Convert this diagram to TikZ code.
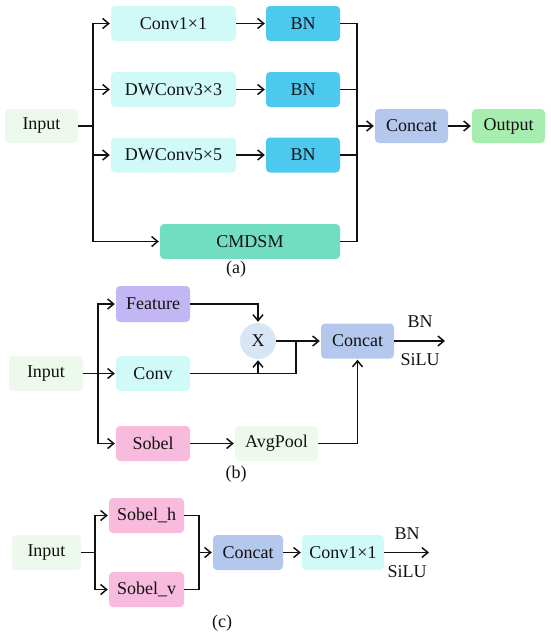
\documentclass[tikz,border=0pt]{standalone}
\usepackage{fontspec}
\setmainfont{Liberation Serif}
\usetikzlibrary{arrows.meta}
\definecolor{inpc}{HTML}{EEF9EE}
\definecolor{cyanc}{HTML}{CFFAF8}
\definecolor{bnc}{HTML}{4DC9EF}
\definecolor{tealc}{HTML}{72DEC1}
\definecolor{concc}{HTML}{B4C7EC}
\definecolor{outc}{HTML}{A8EDB0}
\definecolor{purpc}{HTML}{C3B6F4}
\definecolor{pinkc}{HTML}{F8BADD}
\definecolor{xc}{HTML}{D6E6F4}
\definecolor{txt}{HTML}{111111}
\tikzset{
  box/.style={rounded corners=4pt, inner sep=0pt, text=txt, minimum height=35pt, font=\fontsize{18}{20}\selectfont},
  lab/.style={inner sep=0pt, text=txt, font=\fontsize{18}{20}\selectfont},
  conn/.style={line width=1.7pt, draw=txt},
  arr/.style={conn, -{Straight Barb[length=6pt,width=10pt,line width=1.5pt]}, shorten >=1pt}
}
\begin{document}
\begin{tikzpicture}[x=1pt,y=-1pt]
\useasboundingbox (0,0) rectangle (550,637);
% ---------- (a) ----------
\node[box,fill=inpc,minimum width=73pt,minimum height=34pt] (ain) at (41.5,126) {Input};
\node[box,fill=cyanc,minimum width=125pt] (ac1) at (173.5,23.5) {Conv1×1};
\node[box,fill=cyanc,minimum width=125pt] (ac3) at (173.5,89.5) {DWConv3×3};
\node[box,fill=cyanc,minimum width=125pt] (ac5) at (173.5,155) {DWConv5×5};
\node[box,fill=bnc,minimum width=74pt] (abn1) at (303,23.5) {BN};
\node[box,fill=bnc,minimum width=74pt] (abn2) at (303,89.5) {BN};
\node[box,fill=bnc,minimum width=74pt] (abn3) at (303,155) {BN};
\node[box,fill=tealc,minimum width=180pt] (acm) at (250,241.5) {CMDSM};
\node[box,fill=concc,minimum width=73pt,minimum height=34pt] (acon) at (411.5,126) {Concat};
\node[box,fill=outc,minimum width=73pt,minimum height=34pt] (aout) at (508.5,126) {Output};
\node[lab] (alab) at (236,269) {(a)};
\coordinate (asplit) at (93,126);
\coordinate (amerge) at (357,126);
\draw[conn] (ain) -- (asplit);
\draw[arr] (asplit) |- (ac1);
\draw[arr] (asplit) |- (ac3);
\draw[arr] (asplit) |- (ac5);
\draw[arr] (asplit) |- (acm);
\draw[arr] (ac1) -- (abn1);
\draw[arr] (ac3) -- (abn2);
\draw[arr] (ac5) -- (abn3);
\draw[conn] (abn1) -| (amerge);
\draw[conn] (abn2) -| (amerge);
\draw[conn] (abn3) -| (amerge);
\draw[conn] (acm) -| (amerge);
\draw[arr] (amerge) -- (acon);
\draw[arr] (acon) -- (aout);
% ---------- (b) ----------
\node[box,fill=inpc,minimum width=74pt] (bin) at (46,373.5) {Input};
\node[box,fill=purpc,minimum width=74pt,minimum height=36pt] (bfeat) at (153,304) {Feature};
\node[box,fill=cyanc,minimum width=74pt] (bconv) at (153,373.5) {Conv};
\node[box,fill=pinkc,minimum width=74pt] (bsob) at (153,443.5) {Sobel};
\node[circle,fill=xc,minimum size=36pt,inner sep=0pt,text=txt,font=\fontsize{18}{20}\selectfont] (bx) at (258,341) {X};
\node[box,fill=concc,minimum width=73pt] (bcon) at (357.5,341) {Concat};
\node[box,fill=inpc,minimum width=83pt] (bavg) at (276.5,443.5) {AvgPool};
\node[lab] (blab) at (236,474) {(b)};
\coordinate (bsplit) at (98,373.5);
\coordinate (bjoin) at (296,373.5);
\coordinate (bend) at (446,341);
\draw[arr] (bin) -- (bconv);
\draw[arr] (bsplit) |- (bfeat);
\draw[arr] (bsplit) |- (bsob);
\draw[arr] (bfeat) -| (bx);
\draw[conn] (bconv) -- (bjoin) -- (bjoin |- bcon);
\draw[arr] (bx |- bconv) -- (bx);
\draw[arr] (bx) -- (bcon);
\draw[arr] (bcon) -- (bend) node[lab,midway,yshift=19pt] {BN} node[lab,midway,yshift=-19pt] {SiLU};
\draw[arr] (bsob) -- (bavg);
\draw[arr] (bavg) -| (bcon);
% ---------- (c) ----------
\node[box,fill=inpc,minimum width=69pt] (cin) at (46.5,552.5) {Input};
\node[box,fill=pinkc,minimum width=75pt] (csh) at (146.5,515.5) {Sobel\_h};
\node[box,fill=pinkc,minimum width=75pt] (csv) at (146.5,589.5) {Sobel\_v};
\node[box,fill=concc,minimum width=70pt] (ccon) at (248,552.5) {Concat};
\node[box,fill=cyanc,minimum width=82pt] (cconv) at (343,552.5) {Conv1×1};
\node[lab] (clab) at (222,623) {(c)};
\coordinate (csplit) at (95,552.5);
\coordinate (cmerge) at (199,552.5);
\coordinate (cend) at (430,552.5);
\draw[conn] (cin) -- (csplit);
\draw[arr] (csplit) |- (csh);
\draw[arr] (csplit) |- (csv);
\draw[conn] (csh) -| (cmerge);
\draw[conn] (csv) -| (cmerge);
\draw[arr] (cmerge) -- (ccon);
\draw[arr] (ccon) -- (cconv);
\draw[arr] (cconv) -- (cend) node[lab,midway,yshift=19pt] {BN} node[lab,midway,yshift=-19pt] {SiLU};
\end{tikzpicture}
\end{document}
